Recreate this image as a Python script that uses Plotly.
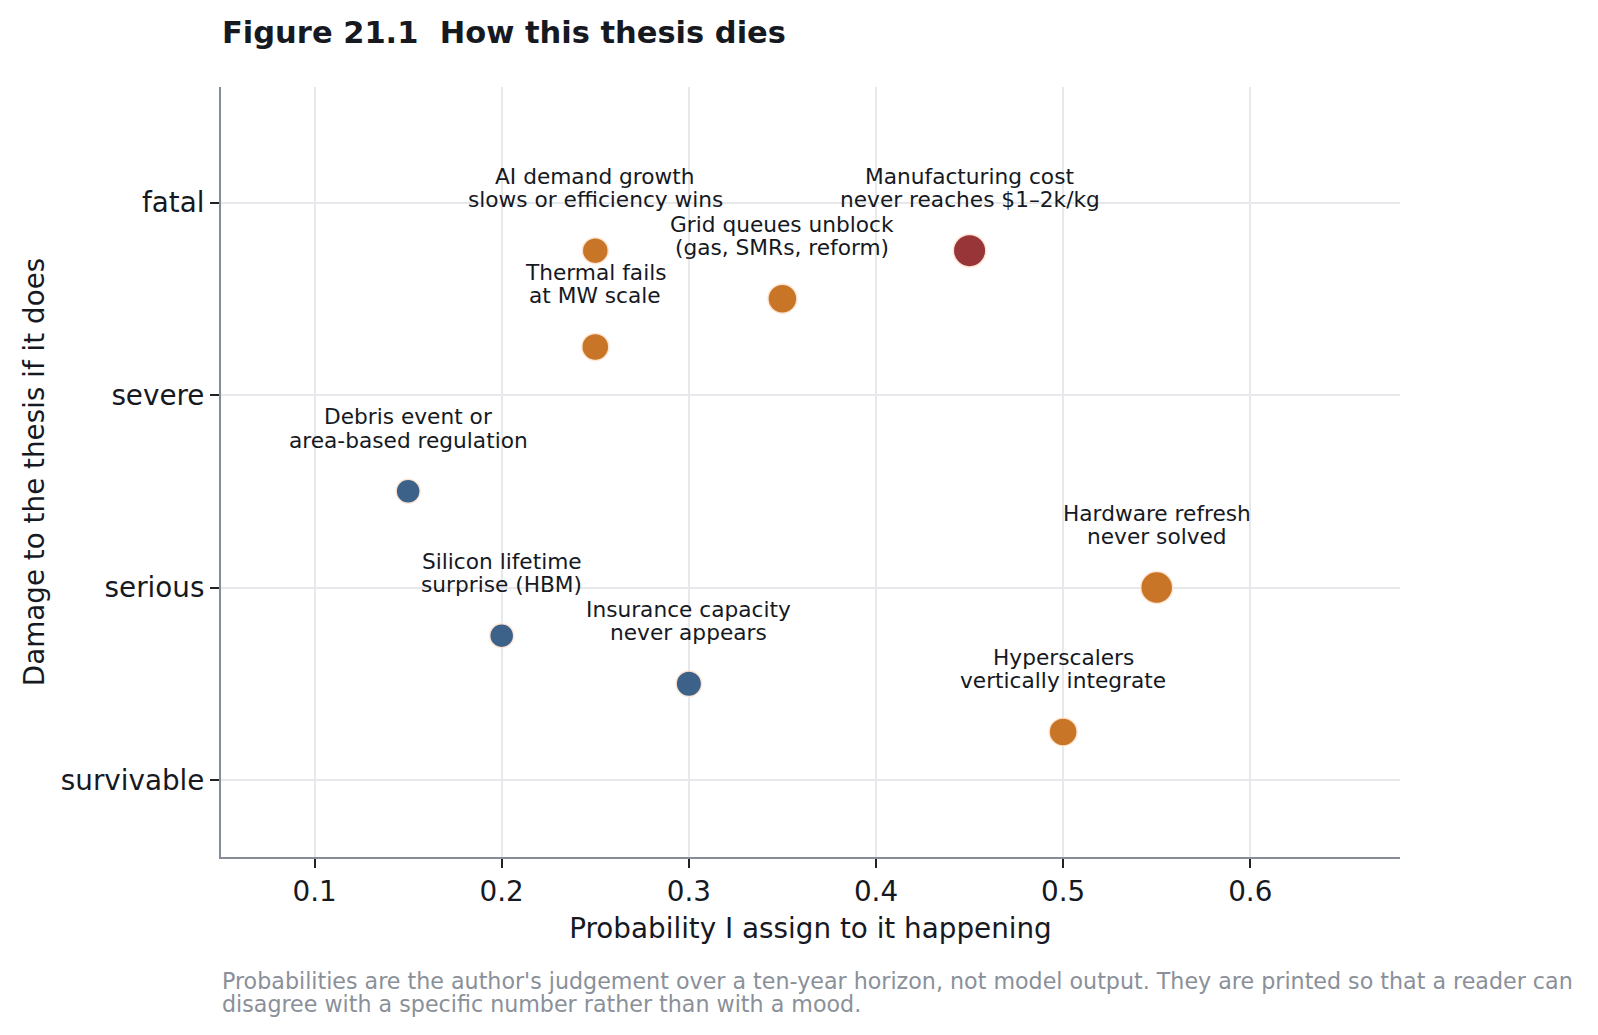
import plotly.graph_objects as go

# risk register: probability vs damage
risks = [
    "AI demand growth\nslows or efficiency wins",
    "Manufacturing cost\nnever reaches $1\u20132k/kg",
    "Grid queues unblock\n(gas, SMRs, reform)",
    "Thermal fails\nat MW scale",
    "Debris event or\narea-based regulation",
    "Hardware refresh\nnever solved",
    "Silicon lifetime\nsurprise (HBM)",
    "Insurance capacity\nnever appears",
    "Hyperscalers\nvertically integrate",
]
probability = [0.25, 0.45, 0.35, 0.25, 0.15, 0.55, 0.20, 0.30, 0.50]
damage = [3.75, 3.75, 3.5, 3.25, 2.5, 2.0, 1.75, 1.5, 1.25]
group = ["market", "cost", "market", "market", "tech", "market", "tech", "tech", "market"]
dot_size = [26, 32.5, 29, 27, 24, 32, 24, 25.5, 28]

damage_levels = [1, 2, 3, 4]
damage_labels = ["survivable", "serious", "severe", "fatal"]

footnote = [
    "Probabilities are the author's judgement over a ten-year horizon, not model output. "
    "They are printed so that a reader can",
    "disagree with a specific number rather than with a mood.",
]

colours = {"market": "#C87528", "cost": "#983539", "tech": "#3D628A"}
font = "DejaVu Sans"
ink = "#16191F"

# page body has an 8px margin, so the figure is 16px smaller than the window
W, H = 1582, 1019

fig = go.Figure()
fig.add_trace(go.Scatter(
    x=probability, y=damage, mode="markers",
    marker=dict(size=dot_size, opacity=1, color=[colours[g] for g in group],
                line=dict(color="rgba(255,232,215,0.95)", width=1.5)),
    showlegend=False, hoverinfo="skip",
))

# two-line labels above each dot, one annotation per line
for p, d, lab in zip(probability, damage, risks):
    top, bottom = lab.split("\n")
    for txt, shift in [(top, 74.5), (bottom, 51)]:
        fig.add_annotation(x=p, y=d, text=txt, showarrow=False,
                           xanchor="center", yanchor="middle", yshift=shift,
                           font=dict(family=font, size=21.7, color=ink))

for i, line in enumerate(footnote):
    fig.add_annotation(
        xref="paper", yref="paper", x=0, y=0, xshift=-1, yshift=-(973 - 849) - 22.5 * i,
        xanchor="left", yanchor="middle", align="left", showarrow=False,
        text=line, font=dict(family=font, size=22.2, color="#8A9099"),
    )

fig.update_layout(
    width=W, height=H,
    margin=dict(l=213, r=190, t=79, b=170),
    plot_bgcolor="white", paper_bgcolor="white",
    font=dict(family=font, color=ink),
    title=dict(text="<b>Figure 21.1\u00a0 How this thesis dies</b>",
               xref="container", yref="container", x=214 / W, xanchor="left",
               y=1 - 24 / H, yanchor="middle",
               font=dict(family=font, size=30.5, color=ink)),
)
fig.update_xaxes(
    range=[0.05, 0.68], tick0=0.1, dtick=0.1,
    showgrid=True, gridcolor="#E6E8EB", gridwidth=1.5, zeroline=False,
    showline=True, linecolor="#878D97", linewidth=2,
    ticks="outside", ticklen=9, tickwidth=1.8, tickcolor="#222",
    tickfont=dict(family=font, size=27.8, color=ink),
    title=dict(text="Probability I assign to it happening", standoff=11,
               font=dict(family=font, size=27.8, color=ink)),
)
fig.update_yaxes(
    range=[0.6, 4.6], tickvals=damage_levels, ticktext=damage_labels,
    showgrid=True, gridcolor="#E6E8EB", gridwidth=1.5, zeroline=False,
    showline=True, linecolor="#878D97", linewidth=2,
    ticks="outside", ticklen=9, tickwidth=1.8, tickcolor="#222",
    tickfont=dict(family=font, size=27.8, color=ink),
    title=dict(text="Damage to the thesis if it does", standoff=8,
               font=dict(family=font, size=27.8, color=ink)),
)

fig.write_html("out.html")
